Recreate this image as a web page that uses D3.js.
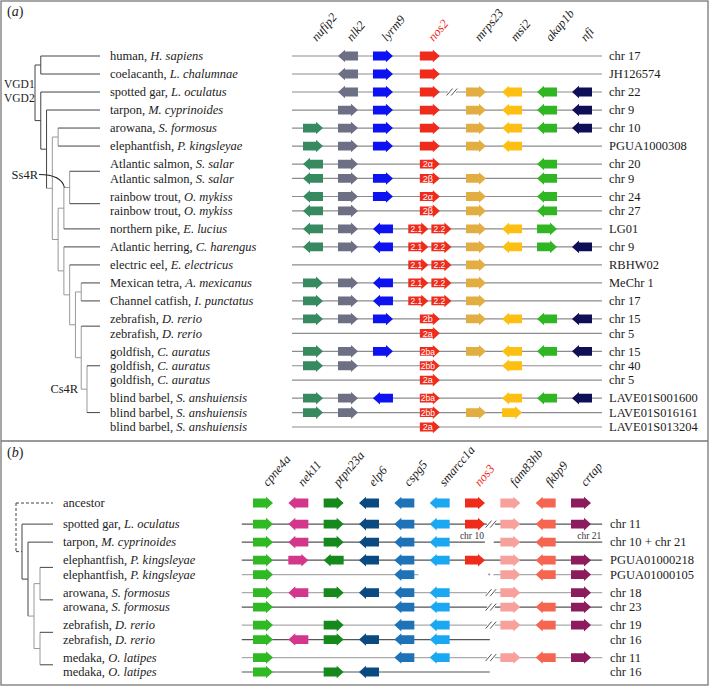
<!DOCTYPE html>
<html><head><meta charset="utf-8">
<script src="https://cdn.jsdelivr.net/npm/d3@7"></script>
<style>body{margin:0;background:#fff}svg{display:block}</style>
</head><body><svg id="chart" width="710" height="687"></svg>
<script>
// ================= DATA : panel (a) =================
const genesA = ["nufip2","nlk2","lyrm9","nos2","mrps23","msi2","akap1b","nfi"];
const focalA = "nos2";
const speciesA = [
 ["human","H. sapiens"],["coelacanth","L. chalumnae"],["spotted gar","L. oculatus"],["tarpon","M. cyprinoides"],
 ["arowana","S. formosus"],["elephantfish","P. kingsleyae"],["Atlantic salmon","S. salar"],["Atlantic salmon","S. salar"],
 ["rainbow trout","O. mykiss"],["rainbow trout","O. mykiss"],["northern pike","E. lucius"],["Atlantic herring","C. harengus"],
 ["electric eel","E. electricus"],["Mexican tetra","A. mexicanus"],["Channel catfish","I. punctatus"],["zebrafish","D. rerio"],
 ["zebrafish","D. rerio"],["goldfish","C. auratus"],["goldfish","C. auratus"],["goldfish","C. auratus"],
 ["blind barbel","S. anshuiensis"],["blind barbel","S. anshuiensis"],["blind barbel","S. anshuiensis"]
];
const chromA = ["chr 17","JH126574","chr 22","chr 9","chr 10","PGUA1000308","chr 20","chr 9","chr 24","chr 27","LG01","chr 9",
 "RBHW02","MeChr 1","chr 17","chr 15","chr 5","chr 15","chr 40","chr 5","LAVE01S001600","LAVE01S016161","LAVE01S013204"];
// R = forward, L = reverse, - = absent (one character per gene in genesA)
const orientA = ["-LRR----","-LRR----","-LRRRLLL","-RRRRLLL","RRRRRLLL","RRRRRL--","LR-R--L-","LRRRR-L-","LRRRR-L-","LR-RR-L-",
 "LRLRRLR-","LRLRRLRL","---RR---","RRLRR---","RRLRR---","RRRRRLLL","---R----","RRRRRLLL","RR-R-L--","---R----",
 "RRLR-LLL","RR-RRR--","---R----"];
const nos2CopiesA = [[""],[""],[""],[""],[""],[""],["2α"],["2β"],["2α"],["2β"],["2.1","2.2"],["2.1","2.2"],["2.1","2.2"],
 ["2.1","2.2"],["2.1","2.2"],["2b"],["2a"],["2ba"],["2bb"],["2a"],["2ba"],["2bb"],["2a"]];
const breakRowsA = [2];
const treeA = {c:[
  {c:["human","coelacanth"]},
  {c:["spotted gar",
    {c:["tarpon",
      {c:[
        {c:["arowana","elephantfish"]},
        {c:[
          {c:[{id:"Ss4R", c:["Atlantic salmon","rainbow trout"]},"northern pike"]},
          {c:["Atlantic herring",
            {c:["electric eel",
              {c:[{c:["Mexican tetra","Channel catfish"]},
                  {c:["zebrafish",{id:"Cs4R", c:["goldfish","blind barbel"]}]}]}]}]}]}]}]}]}]};

// ================= DATA : panel (b) =================
const genesB = ["cpne4a","nek11","ptpn23a","elp6","cspg5","smarcc1a","nos3","fam83hb","fkbp9","crtap"];
const focalB = "nos3";
const speciesB = [["ancestor",""],["spotted gar","L. oculatus"],["tarpon","M. cyprinoides"],["elephantfish","P. kingsleyae"],
 ["elephantfish","P. kingsleyae"],["arowana","S. formosus"],["arowana","S. formosus"],["zebrafish","D. rerio"],
 ["zebrafish","D. rerio"],["medaka","O. latipes"],["medaka","O. latipes"]];
const chromB = ["","chr 11","chr 10 + chr 21","PGUA01000218","PGUA01000105","chr 18","chr 23","chr 19","chr 16","chr 11","chr 16"];
const orientB = ["RLRLLLRRLR","RLRLLLRRLR","RLRLLL-RL-","RRLLLLRRLR","R---L--RLR","RLRLLL-R-R","R---LL-RLR","R-R-LL-RLR",
 "RLRLLL----","R---LL-RLR","R-RL------"];
// contig segments, in gene-index units
const segmentsB = [[],[[-0.6,9.6]],[[-0.6,6.28],[6.53,9.6]],[[-0.6,9.6]],[[-0.6,4.4],[6.52,9.6]],[[-0.6,9.6]],[[-0.6,9.6]],
 [[-0.6,9.6]],[[-0.6,6.42]],[[-0.6,9.6]],[[-0.6,6.42]]];
const segLabelsB = [{row:2, seg:0, text:"chr 10"},{row:2, seg:1, text:"chr 21"}];
const breakRowsB = [1,5,6,7,9];
const gapMarkB = [{row:4, text:"*"}];
const treeB = {dashed:true, c:["ancestor",
  {c:["spotted gar",{c:["tarpon",{c:[{c:["elephantfish","arowana"]},{c:["zebrafish","medaka"]}]}]}]}]};

// ================= STYLE =================
const paletteA = {nufip2:"#378a60", nlk2:"#6d6f84", lyrm9:"#0c12f0", nos2:"#ef2b1c", mrps23:"#e2ae42",
  msi2:"#fdbf12", akap1b:"#30b623", nfi:"#0f0f58"};
const paletteB = {cpne4a:"#2fb923", nek11:"#d3378c", ptpn23a:"#15891c", elp6:"#0b4a80", cspg5:"#1d72b8",
  smarcc1a:"#1ba8f3", nos3:"#ef2b1c", fam83hb:"#f8a19c", fkbp9:"#f6654f", crtap:"#8d1c5f"};
const lineToneB = ["", "#555","#555","#555","#aaa","#aaa","#555","#aaa","#555","#aaa","#555"];
const SERIF = "'Liberation Serif','Times New Roman',serif";
const SANS = "'Liberation Sans','DejaVu Sans',Arial,sans-serif";
const TXT = "#1c1c1c";

const svg = d3.select("#chart");

// frame
svg.append("rect").attr("x",1).attr("y",1).attr("width",707).attr("height",684)
  .attr("fill","none").attr("stroke","#777").attr("stroke-width",1.3);
svg.append("line").attr("x1",1).attr("x2",708).attr("y1",441).attr("y2",441)
  .attr("stroke","#777").attr("stroke-width",1.3);

function panelTag(x, y, letter){
  const t = svg.append("text").attr("x",x).attr("y",y).attr("font-family",SERIF).attr("font-size",14).attr("fill",TXT);
  t.append("tspan").text("(");
  t.append("tspan").attr("font-style","italic").text(letter);
  t.append("tspan").text(")");
}
panelTag(7,16,"a");
panelTag(7,457,"b");

function arrowPath(cx, cy, dir){
  const half = 10, headLen = 7, bh = 4.4, hh = 6.3;
  const tail = cx - dir*half, tip = cx + dir*half, neck = tip - dir*headLen;
  return `M${tail},${cy-bh}L${neck},${cy-bh}L${neck},${cy-hh}L${tip},${cy}L${neck},${cy+hh}L${neck},${cy+bh}L${tail},${cy+bh}Z`;
}

function rowUnits(species, extraFirst){
  const u = []; let acc = 0;
  species.forEach((s,i)=>{
    if(i>0) acc += (s[0]===species[i-1][0] ? 0.8 : 1) + (i===1 ? extraFirst : 0);
    u.push(acc);
  });
  return u;
}

function speciesLabel(g, x, y, sp){
  const t = g.append("text").attr("x",x).attr("y",y+4.3).attr("font-family",SERIF).attr("font-size",12.5).attr("fill",TXT);
  t.append("tspan").text(sp[0] + (sp[1] ? ", " : ""));
  if(sp[1]) t.append("tspan").attr("font-style","italic").text(sp[1]);
}

function drawBreak(g, x, y){
  g.append("rect").attr("x",x-4).attr("y",y-2).attr("width",8).attr("height",4).attr("fill","#fff");
  [-2.3,2.3].forEach(d=>{
    g.append("line").attr("x1",x+d-3).attr("y1",y+3.5).attr("x2",x+d+3).attr("y2",y-3.5)
      .attr("stroke","#555").attr("stroke-width",1);
  });
}

function drawTree(g, data, leafY, xDepth, leafX){
  const root = d3.hierarchy(data, d => d.c ? d.c.map(c => typeof c === "string" ? {name:c} : c) : null);
  root.eachAfter(n=>{
    if(!n.children){ n.py = leafY.get(n.data.name); n.px = leafX; }
    else { n.py = (n.children[0].py + n.children[n.children.length-1].py)/2; n.px = xDepth(n.depth); }
  });
  root.each(n=>{
    if(!n.children) return;
    const dash = n.data.dashed ? "3,2" : null;
    g.append("line").attr("x1",n.px).attr("x2",n.px)
      .attr("y1",n.children[0].py).attr("y2",n.children[n.children.length-1].py)
      .attr("stroke", n.data.dashed ? "#444" : (n.depth>=3 ? "#999" : "#444")).attr("stroke-width",1)
      .attr("stroke-dasharray",dash);
    n.children.forEach(ch=>{
      g.append("line").attr("x1",n.px).attr("x2",ch.px).attr("y1",ch.py).attr("y2",ch.py)
        .attr("stroke", ch.children && ch.depth>=3 ? "#999" : "#444").attr("stroke-width",1)
        .attr("stroke-dasharray",dash);
    });
  });
  return root;
}

// ================= PANEL A =================
const gA = svg.append("g");
const unitsA = rowUnits(speciesA, 0);
const yA = d3.scaleLinear().domain([0, d3.max(unitsA)]).range([56, 427]);
const geneSlotA = [0,1,2,3.34,4.66,5.69,6.69,7.69];
const slotA = d3.scaleLinear().domain([0, 7.69]).range([313, 582]);
const xGeneA = g => slotA(geneSlotA[genesA.indexOf(g)]);
const lineA = [-0.6, 8.26];

// gene labels
genesA.forEach(gn=>{
  const x = xGeneA(gn)+4, y = 42;
  gA.append("text").attr("transform",`translate(${x},${y}) rotate(-50)`)
    .attr("font-family",SERIF).attr("font-style","italic").attr("font-size",12.5)
    .attr("fill", gn===focalA ? "#ee2b1c" : TXT).text(gn);
});

speciesA.forEach((sp,i)=>{
  const y = yA(unitsA[i]);
  gA.append("line").attr("x1",slotA(lineA[0])).attr("x2",slotA(lineA[1])).attr("y1",y).attr("y2",y)
    .attr("stroke","#8c8c8c").attr("stroke-width",1.2);
  if(breakRowsA.includes(i)) drawBreak(gA, slotA(3.97), y);
  genesA.forEach((gn,j)=>{
    const o = orientA[i][j];
    if(o==="-") return;
    const dir = o==="R" ? 1 : -1;
    if(gn===focalA){
      const copies = nos2CopiesA[i];
      copies.forEach((lab,k)=>{
        const off = copies.length===2 ? (k===0 ? -0.33 : 0.33) : 0;
        const cx = slotA(geneSlotA[j] + off);
        gA.append("path").attr("d",arrowPath(cx,y,dir)).attr("fill",paletteA[gn]);
        if(lab) gA.append("text").attr("x",cx-dir*2).attr("y",y+3.3).attr("text-anchor","middle")
          .attr("font-family",SANS).attr("font-size",lab.length>2?8.5:9).attr("fill","#fff").text(lab);
      });
    } else {
      gA.append("path").attr("d",arrowPath(xGeneA(gn),y,dir)).attr("fill",paletteA[gn]);
    }
  });
  speciesLabel(gA, 110, y, sp);
  gA.append("text").attr("x",609).attr("y",y+4.3).attr("font-family",SERIF).attr("font-size",12.5)
    .attr("fill",TXT).text(chromA[i]);
});

// tree A
const leafYA = d3.rollup(speciesA.map((s,i)=>[s[0], yA(unitsA[i])]), v=>d3.mean(v,d=>d[1]), d=>d[0]);
const xTreeA = d3.scaleLinear().domain([0,9]).range([35,87]);
const rootA = drawTree(gA, treeA, leafYA, xTreeA, 100);
// annotations
gA.append("text").attr("x",4).attr("y",88).attr("font-family",SERIF).attr("font-size",11.5).attr("fill",TXT).text("VGD1");
gA.append("text").attr("x",4).attr("y",102).attr("font-family",SERIF).attr("font-size",11.5).attr("fill",TXT).text("VGD2");
rootA.each(n=>{
  if(n.data.id==="Ss4R"){
    gA.append("text").attr("x",38).attr("y",179).attr("text-anchor","end").attr("font-family",SERIF)
      .attr("font-size",12.5).attr("fill",TXT).text("Ss4R");
    const ex = xTreeA(n.depth-1)+0.5, ey = n.py;
    gA.append("path").attr("d",`M39,174.5Q${ex-3},174.5 ${ex},${ey}`).attr("fill","none")
      .attr("stroke","#222").attr("stroke-width",1.1);
  }
  if(n.data.id==="Cs4R"){
    gA.append("text").attr("x",xTreeA(n.depth-1)-3).attr("y",n.py+4).attr("text-anchor","end")
      .attr("font-family",SERIF).attr("font-size",12.5).attr("fill",TXT).text("Cs4R");
  }
});

// ================= PANEL B =================
const gB = svg.append("g");
const unitsB = rowUnits(speciesB, 0.17);
const yB = d3.scaleLinear().domain([0, d3.max(unitsB)]).range([503, 672]);
const xB = d3.scaleLinear().domain([0, genesB.length-1]).range([263, 581]);

genesB.forEach((gn,j)=>{
  const x = xB(j)+5, y = 487;
  gB.append("text").attr("transform",`translate(${x},${y}) rotate(-50)`)
    .attr("font-family",SERIF).attr("font-style","italic").attr("font-size",12.5)
    .attr("fill", gn===focalB ? "#ee2b1c" : TXT).text(gn);
});

speciesB.forEach((sp,i)=>{
  const y = yB(unitsB[i]);
  segmentsB[i].forEach(s=>{
    gB.append("line").attr("x1",xB(s[0])).attr("x2",xB(s[1])).attr("y1",y).attr("y2",y)
      .attr("stroke",lineToneB[i]).attr("stroke-width",1.2);
  });
  if(breakRowsB.includes(i)) drawBreak(gB, xB(6.45), y);
  genesB.forEach((gn,j)=>{
    const o = orientB[i][j];
    if(o==="-") return;
    gB.append("path").attr("d",arrowPath(xB(j),y,o==="R"?1:-1)).attr("fill",paletteB[gn]);
  });
  speciesLabel(gB, 63, y, sp);
  if(chromB[i]) gB.append("text").attr("x",610).attr("y",y+4.3).attr("font-family",SERIF).attr("font-size",12.5)
    .attr("fill",TXT).text(chromB[i]);
});
segLabelsB.forEach(l=>{
  const y = yB(unitsB[l.row]);
  gB.append("text").attr("x",xB(segmentsB[l.row][l.seg][1])-1).attr("y",y-3.5).attr("text-anchor","end")
    .attr("font-family",SERIF).attr("font-size",9.5).attr("fill","#333").text(l.text);
});
gapMarkB.forEach(m=>{
  const y = yB(unitsB[m.row]);
  gB.append("text").attr("x",xB(6.4)).attr("y",y+3).attr("text-anchor","middle")
    .attr("font-family",SANS).attr("font-size",7).attr("fill","#777").text(m.text);
});

const leafYB = d3.rollup(speciesB.map((s,i)=>[s[0], yB(unitsB[i])]), v=>d3.mean(v,d=>d[1]), d=>d[0]);
const xTreeB = d3.scaleLinear().domain([0,4]).range([16,40]);
drawTree(gB, treeB, leafYB, xTreeB, 53);
</script>
</body></html>
